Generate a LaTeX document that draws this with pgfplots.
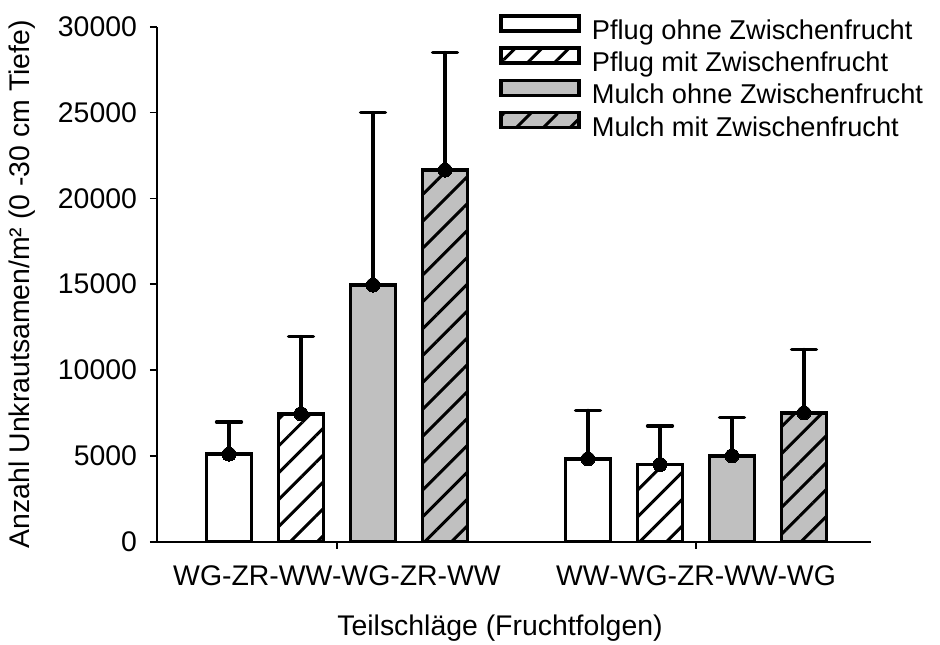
\documentclass[border=0pt]{standalone}
\usepackage{pgfplots}
\pgfplotsset{compat=1.18}
\usepackage{fontspec}
\setmainfont{Liberation Sans}
\usetikzlibrary{patterns.meta}
\definecolor{bargray}{RGB}{192,192,192}
\begin{document}
\begin{tikzpicture}[font=\fontsize{14.2pt}{17pt}\selectfont]
\useasboundingbox (-78.5pt,-51.15pt) rectangle (391.5pt,270.85pt);
\begin{axis}[
  scale only axis, width=357pt, height=257.5pt,
  xmin=-0.5014, xmax=1.4875, ymin=0, ymax=30000,
  axis x line*=bottom, axis y line*=left,
  axis line style={line width=0.8pt, -},
  ytick={0,5000,10000,15000,20000,25000,30000},
  xtick={0,1}, xticklabels={WG-ZR-WW-WG-ZR-WW, WW-WG-ZR-WW-WG},
  tick align=outside, major tick length=3.5pt,
  tick style={black, line width=0.8pt},
  scaled y ticks=false,
  /pgf/number format/1000 sep={},
  /pgf/number format/assume math mode=true,
  yticklabel style={xshift=-3pt},
  xticklabel style={yshift=-5pt},
  ylabel={Anzahl Unkrautsamen/m² (0 -30 cm Tiefe)},
  ylabel style={at={(rel axis cs:-0.189,0.5)}, anchor=center},
  xlabel={Teilschläge (Fruchtfolgen)},
  xlabel style={at={(rel axis cs:0.4804,-0.1676)}, anchor=center},
  legend style={draw=none, fill=none, at={(rel axis cs:0.479,1.025)}, anchor=north west,
    inner sep=0pt, row sep=0pt, column sep=5.5pt,
    font=\fontsize{13.6pt}{16pt}\selectfont,
    nodes={inner sep=0pt, text height=9.8pt, text depth=3.5pt}},
  legend cell align=left,
  legend image code/.code={\draw (0pt,1.1pt) rectangle (39pt,8.6pt);},
  error bars/error bar style={line width=1.6pt, line cap=round, black},
  error bars/error mark options={rotate=90, line width=1.75pt, mark size=6.2pt, line cap=round, black},
]
\addplot[ybar, bar width=0.1253, bar shift=0pt, draw=black, fill=white, line width=1.75pt,
  mark=*, mark size=3.5pt, mark options={fill=black, draw=black, line width=0pt},
  error bars/.cd, y dir=plus, y explicit]
  coordinates {(-0.3008,5100) +- (0,1875) (0.6992,4820) +- (0,2830)};
\addlegendentry{Pflug ohne Zwischenfrucht}
\addplot[ybar, bar width=0.1253, bar shift=0pt, draw=black, fill=white, line width=1.75pt,
  postaction={pattern={Lines[angle=45,distance=9.5pt,line width=1.5pt]}, pattern color=black},
  mark=*, mark size=3.5pt, mark options={fill=black, draw=black, line width=0pt},
  error bars/.cd, y dir=plus, y explicit]
  coordinates {(-0.1003,7450) +- (0,4500) (0.8997,4500) +- (0,2250)};
\addlegendentry{Pflug mit Zwischenfrucht}
\addplot[ybar, bar width=0.1253, bar shift=0pt, draw=black, fill=bargray, line width=1.75pt,
  mark=*, mark size=3.5pt, mark options={fill=black, draw=black, line width=0pt},
  error bars/.cd, y dir=plus, y explicit]
  coordinates {(0.1003,14950) +- (0,10050) (1.1003,5000) +- (0,2230)};
\addlegendentry{Mulch ohne Zwischenfrucht}
\addplot[ybar, bar width=0.1253, bar shift=0pt, draw=black, fill=bargray, line width=1.75pt,
  postaction={pattern={Lines[angle=45,distance=9.5pt,line width=1.5pt]}, pattern color=black},
  mark=*, mark size=3.5pt, mark options={fill=black, draw=black, line width=0pt},
  error bars/.cd, y dir=plus, y explicit]
  coordinates {(0.3008,21650) +- (0,6850) (1.3008,7500) +- (0,3700)};
\addlegendentry{Mulch mit Zwischenfrucht}
\end{axis}
\end{tikzpicture}
\end{document}
